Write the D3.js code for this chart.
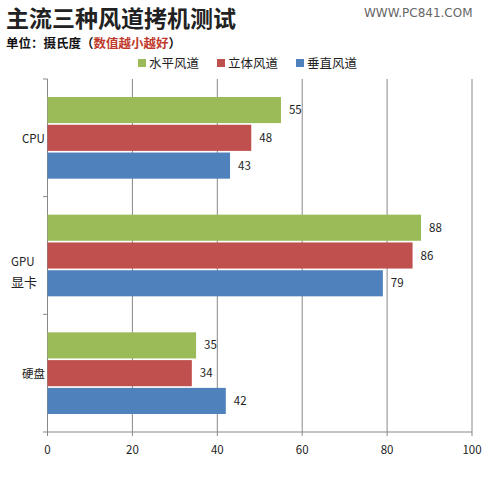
<!DOCTYPE html>
<html><head><meta charset="utf-8">
<script src="https://cdn.jsdelivr.net/npm/d3@7"></script>
<style>body{margin:0;background:#fff}svg{display:block}</style>
</head><body>
<script>
// chart data
var categories = ["CPU", "GPU|显卡", "硬盘"];
var seriesNames = ["水平风道", "立体风道", "垂直风道"];
var seriesColors = ["#9bbb59", "#c0504d", "#4f81bd"];
var horizontal = [55, 88, 35];
var stereo = [48, 86, 34];
var vertical = [43, 79, 42];
var xTicks = [0, 20, 40, 60, 80, 100];
var series = [horizontal, stereo, vertical];

var W = 493, H = 497;
var svg = d3.select("body").append("svg").attr("width", W).attr("height", H);
var font = "'Noto Sans CJK SC', 'DejaVu Sans', sans-serif";

svg.append("text").attr("x", 6).attr("y", 27).attr("font-family", "'Noto Sans CJK SC', serif")
  .attr("font-size", 23).attr("font-weight", "bold").attr("fill", "#222").text("主流三种风道拷机测试");
svg.append("text").attr("x", 364).attr("y", 17).attr("font-family", "'DejaVu Sans', sans-serif")
  .attr("font-size", 12).attr("fill", "#666").text("WWW.PC841.COM");
var sub = svg.append("text").attr("x", 6).attr("y", 48).attr("font-family", font)
  .attr("font-size", 12.5).attr("font-weight", "bold").attr("fill", "#111");
sub.append("tspan").text("单位：摄氏度（");
sub.append("tspan").attr("fill", "#c0392b").text("数值越小越好");
sub.append("tspan").text("）");

// legend
var legend = svg.append("g").attr("font-family", font).attr("font-size", 12.5);
var lx = [138, 217, 296];
seriesNames.forEach(function (n, i) {
  legend.append("rect").attr("x", lx[i]).attr("y", 59).attr("width", 8).attr("height", 8).attr("fill", seriesColors[i]);
  legend.append("text").attr("x", lx[i] + 11).attr("y", 68).attr("fill", "#222").text(n);
});

var x = d3.scaleLinear().domain([0, 100]).range([47.5, 472]);
var y = d3.scaleBand().domain(categories).range([79, 432]);
var inner = d3.scaleBand().domain([0, 1, 2]).range([18, y.bandwidth() - 18]).paddingInner(0.06);

// grid
svg.append("g").selectAll("line").data(xTicks).join("line")
  .attr("x1", function (d) { return x(d); }).attr("x2", function (d) { return x(d); })
  .attr("y1", 79).attr("y2", 436).attr("stroke", "#888").attr("stroke-width", 1);
svg.append("line").attr("x1", 43).attr("x2", x(100)).attr("y1", 432).attr("y2", 432).attr("stroke", "#888");
svg.append("g").selectAll("line").data([79, 79 + y.bandwidth(), 79 + 2 * y.bandwidth()]).join("line")
  .attr("x1", 43).attr("x2", x(0)).attr("y1", function (d) { return d; }).attr("y2", function (d) { return d; })
  .attr("stroke", "#888");

svg.append("g").attr("font-family", font).attr("font-size", 11.5).attr("fill", "#222")
  .selectAll("text").data(xTicks).join("text")
  .attr("x", function (d) { return x(d); }).attr("y", 454).attr("text-anchor", "middle").text(function (d) { return d; });

// bars
categories.forEach(function (c, ci) {
  series.forEach(function (s, si) {
    var yy = y(c) + inner(si);
    svg.append("rect").attr("x", x(0)).attr("y", yy).attr("width", x(s[ci]) - x(0))
      .attr("height", inner.bandwidth()).attr("fill", seriesColors[si]);
    svg.append("text").attr("x", x(s[ci]) + 8).attr("y", yy + inner.bandwidth() / 2 + 4)
      .attr("font-family", font).attr("font-size", 11.5).attr("fill", "#222").text(s[ci]);
  });
});

// category labels
var catG = svg.append("g").attr("font-family", font).attr("font-size", 11.5).attr("fill", "#222");
categories.forEach(function (c) {
  var parts = c.split("|");
  var cy = y(c) + y.bandwidth() / 2;
  parts.forEach(function (p, i) {
    catG.append("text").attr("x", parts.length > 1 ? 11 : 22).attr("y", cy + 5 + (parts.length > 1 ? 5 + i * 21 : 0))
      .attr("font-size", i === 1 ? 13 : 11.5).text(p);
  });
});
</script>
</body></html>
